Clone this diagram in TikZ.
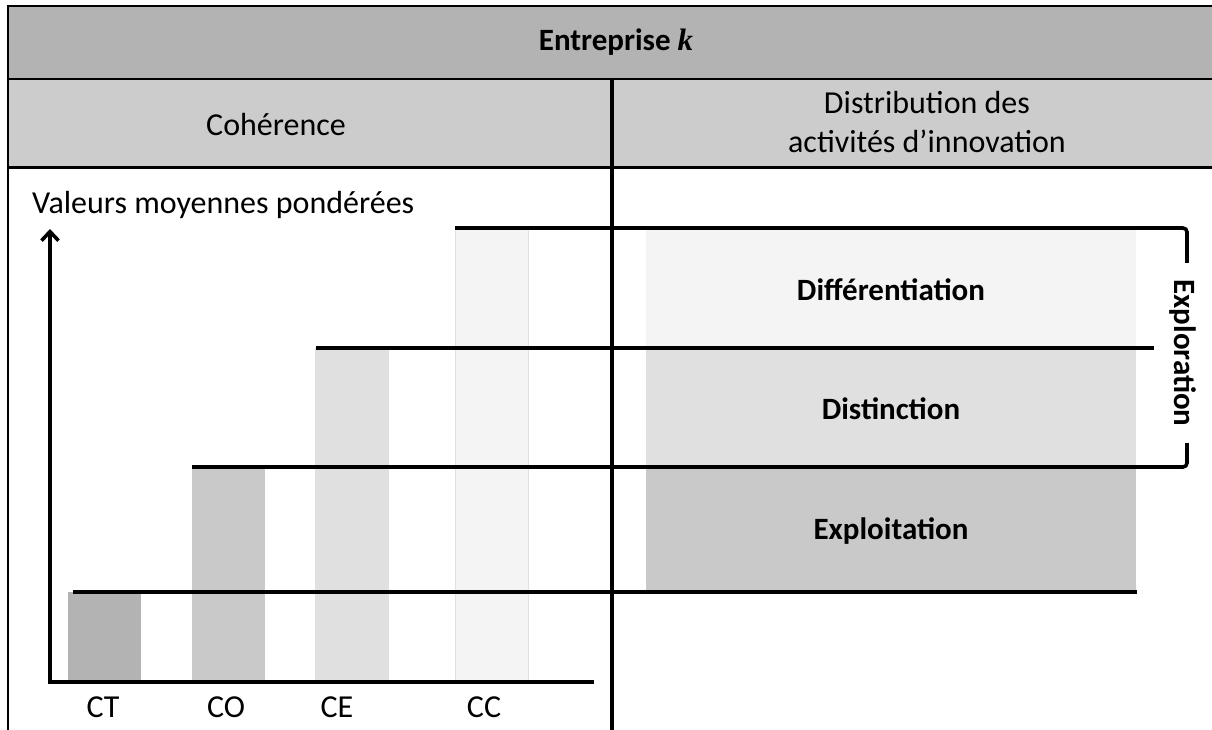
\documentclass[tikz,border=0pt]{standalone}
\usepackage{fontspec}
\setmainfont{Carlito}
\newfontfamily\kfont{Liberation Serif}
\usetikzlibrary{positioning,arrows.meta}
\definecolor{headgray}{HTML}{B3B3B3}
\definecolor{rowgray}{HTML}{CCCCCC}
\definecolor{ctgray}{HTML}{B3B3B3}
\definecolor{cogray}{HTML}{C9C9C9}
\definecolor{cegray}{HTML}{E0E0E0}
\definecolor{ccgray}{HTML}{F4F4F4}
\tikzset{
  frame/.style={line width=2pt},
  level/.style={line width=3.6pt},
  txt/.style={font=\fontsize{32}{39}\selectfont, inner sep=0pt, align=center},
  bold/.style={txt, font=\fontsize{31}{37}\selectfont\bfseries},
}
\begin{document}
\begin{tikzpicture}[x=1pt,y=-1pt]
\useasboundingbox (0,0) rectangle (1212,729);
\fill[headgray] (8,6) rectangle (1214,79);
\fill[rowgray] (8,79) rectangle (1214,167);
\draw[frame] (1216,6) -- (8,6) -- (8,731);
\draw[frame] (8,79) -- (1216,79);
\draw[frame, line width=3pt] (8,167) -- (1216,167);
\node[bold, anchor=base] (title) at (616,50) {Entreprise {\kfont\itshape k}};
\node[txt, anchor=base] (coh) at (276,135) {Cohérence};
\node[txt, anchor=base] (dist) at (927,113) {Distribution des};
\node[txt, anchor=base] (innov) at (927,152) {activités d’innovation};
% barres
\fill[ctgray] (68,592) rectangle (141,680);
\fill[cogray] (192,467) rectangle (265,680);
\fill[cegray] (315,348) rectangle (389,680);
\fill[ccgray, draw=black!12, line width=1pt] (455,228) rectangle (528,680);
% activites
\fill[ccgray] (646,228) rectangle (1136,348);
\fill[cegray] (646,348) rectangle (1136,467);
\fill[cogray] (646,467) rectangle (1136,592);
\node[bold, anchor=base] (diff) at (891,300) {Différentiation};
\node[bold, anchor=base] (disti) at (891,419) {Distinction};
\node[bold, anchor=base] (exploit) at (891,539) {Exploitation};
% axes
\coordinate (ytip) at (50,229);
\coordinate (origin) at (50,682);
\coordinate (xend) at (594,682);
\draw[level, {Straight Barb[length=9pt,width=17pt]}-] (ytip) -- (origin) -- (xend);
\node[txt, anchor=base west] (yaxis) at (32,213) {Valeurs moyennes pondérées};
\foreach \name/\x in {CT/103, CO/226, CE/337, CC/484}
  \node[txt, anchor=base] (\name) at (\x,717) {\name};
% niveaux
\draw[level] (73,592) -- (1137,592);
\draw[level] (192,467) -- (1156,467);
\draw[level] (316,348) -- (1154,348);
\draw[level] (455,228) -- (1156,228);
\draw[frame, line width=4pt] (612,79) -- (612,731);
\draw[level, rounded corners=4pt] (1156,228) -- (1187,228) -- (1187,467) -- (1156,467);
\node[bold, rotate=-90, fill=white, inner xsep=16pt, inner ysep=2pt] (explo) at (1183,353) {Exploration};
\end{tikzpicture}
\end{document}
